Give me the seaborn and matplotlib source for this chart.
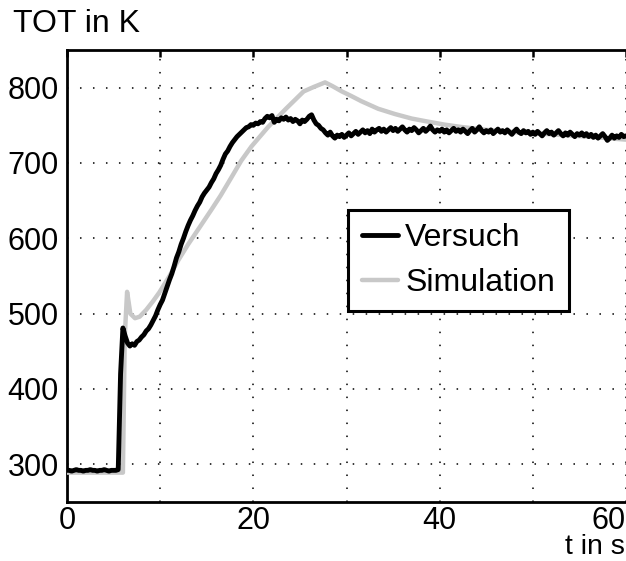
import numpy as np
import matplotlib
matplotlib.use("Agg")
import matplotlib.pyplot as plt
import seaborn as sns

# Messung (Versuch), abgetastet alle 0.25 s von 0 bis 60 s
versuch_dt = 0.25
versuch_T = [
    292, 292, 291, 292, 293, 292, 292, 291, 292, 292, 293, 292, 292, 291, 292, 292, 293, 292, 291, 292,
    292, 292, 293, 420, 481, 470, 461, 457, 460, 458, 463, 465, 469, 472, 477, 480, 485, 491, 497, 505,
    512, 518, 527, 536, 545, 553, 563, 574, 582, 592, 600, 609, 617, 624, 630, 637, 643, 648, 655, 660,
    664, 668, 674, 679, 686, 691, 697, 705, 712, 716, 722, 727, 731, 735, 738, 741, 744, 747, 748, 751,
    750, 753, 752, 755, 754, 759, 762, 760, 763, 754, 758, 756, 760, 758, 761, 757, 759, 755, 758, 756,
    752, 757, 755, 758, 762, 764, 757, 752, 750, 746, 744, 740, 737, 741, 736, 733, 737, 735, 738, 734,
    737, 740, 736, 739, 742, 738, 741, 744, 740, 743, 739, 745, 741, 744, 746, 742, 745, 741, 744, 747,
    743, 746, 742, 745, 748, 744, 741, 745, 743, 747, 744, 740, 743, 746, 742, 745, 749, 744, 741, 744,
    742, 745, 741, 744, 740, 743, 746, 742, 744, 741, 745, 742, 739, 743, 746, 741, 744, 748, 743, 740,
    743, 741, 744, 739, 742, 745, 741, 743, 740, 744, 741, 738, 742, 745, 741, 739, 743, 740, 742, 738,
    741, 738, 742, 739, 736, 740, 743, 739, 741, 737, 740, 743, 739, 736, 740, 737, 741, 738, 735, 739,
    737, 740, 736, 739, 735, 738, 734, 737, 733, 736, 739, 735, 730, 733, 737, 733, 736, 734, 738, 735,
    736,
]
versuch_t = np.arange(len(versuch_T)) * versuch_dt

# Simulation
sim_t = [0, 6.0, 6.2, 6.45, 6.8, 7.3, 7.8, 8.5, 9.2, 9.9, 11.0, 12.0, 13.0, 14.2, 15.5, 16.5,
         17.7, 18.7, 19.8, 21.6, 23.5, 25.4, 26.5, 27.7, 28.5, 29.5, 30.5, 31.6, 33.4, 35.2,
         37.0, 38.7, 40.5, 42.2, 45.0, 48.0, 52.0, 56.0, 60.0]
sim_T = [289, 289, 470, 529, 500, 494, 496, 505, 516, 528, 550, 572, 592, 614, 638, 657,
         682, 703, 722, 748, 772, 795, 801, 807, 802, 795, 789, 782, 772, 765,
         759, 755, 751, 748, 744, 741, 738, 735, 731]

x_ticks = [0, 10, 20, 30, 40, 50, 60]
x_ticklabels = ["0", "", "20", "", "40", "", "60"]
y_ticks = [300, 400, 500, 600, 700, 800]

sns.set_style("white")
plt.rcParams["font.family"] = ["Liberation Sans", "DejaVu Sans"]
plt.rcParams["text.color"] = "black"
FS = 22
FS_LEG = 23

fig = plt.figure(figsize=(6.26, 5.61), dpi=100)
ax = fig.add_axes([67 / 626, 59 / 561, 559 / 626, 452 / 561])

sns.lineplot(x=sim_t, y=sim_T, ax=ax, color="#c8c8c8", linewidth=3.2,
             label="Simulation", zorder=3)
sns.lineplot(x=versuch_t, y=versuch_T, ax=ax, color="black", linewidth=3.5,
             label="Versuch", zorder=4)

ax.set_xlim(0, 60)
ax.set_ylim(250, 850)
ax.set_xticks(x_ticks)
ax.set_xticklabels(x_ticklabels)
ax.set_yticks(y_ticks)
ax.set_xlabel("")
ax.set_ylabel("")

ax.grid(True, color="black", linestyle=(0, (1, 7.5)), linewidth=1.1)
ax.tick_params(axis="both", direction="in", length=5, width=1.8, labelsize=FS,
               top=True, right=False, colors="black", labelcolor="black")
ax.tick_params(axis="x", pad=3)
ax.tick_params(axis="y", pad=6)
for lab in ax.get_xticklabels():
    if lab.get_text() == "60":
        lab.set_horizontalalignment("right")

for side in ["left", "bottom", "top"]:
    ax.spines[side].set_visible(True)
    ax.spines[side].set_linewidth(2.0)
    ax.spines[side].set_color("black")
ax.spines["right"].set_visible(False)

handles, labels = ax.get_legend_handles_labels()
order = [labels.index("Versuch"), labels.index("Simulation")]
leg = ax.legend([handles[i] for i in order], [labels[i] for i in order],
                loc="upper left", bbox_to_anchor=(0.503, 0.646), borderaxespad=0,
                fontsize=FS_LEG, frameon=True, fancybox=False, edgecolor="black",
                framealpha=1.0, handlelength=1.15, handletextpad=0.22,
                borderpad=0.42, labelspacing=0.45)
leg.get_frame().set_linewidth(2.2)
leg.set_zorder(10)

fig.text(13 / 626, 1 - 24 / 561, "TOT in K", fontsize=FS_LEG, ha="left", va="center")
fig.text(625 / 626, 0.5 / 561, "t in s", fontsize=20.5, ha="right", va="bottom")

fig.savefig("out.png", dpi=100)
